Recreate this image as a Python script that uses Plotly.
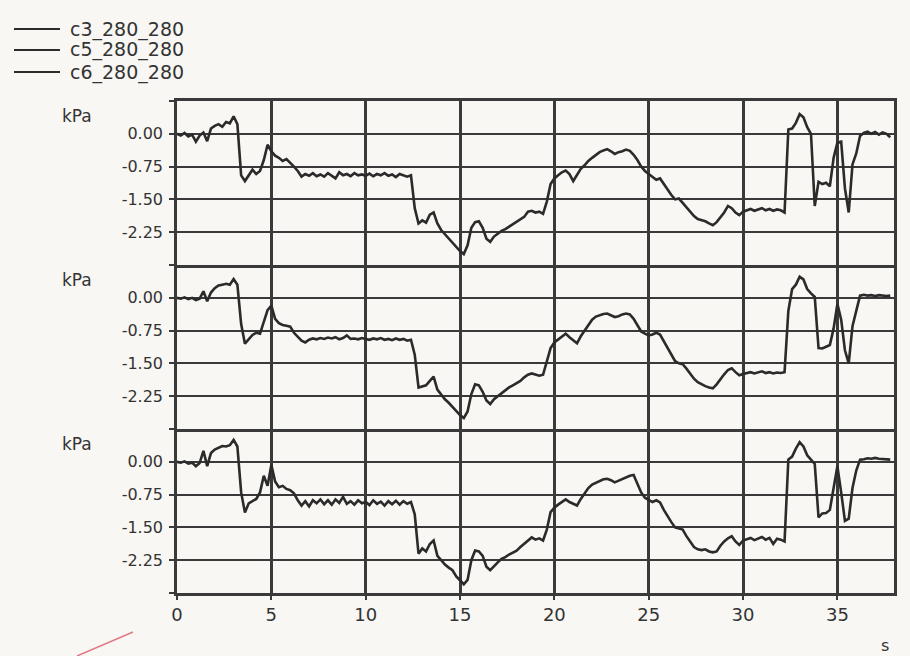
import plotly.graph_objects as go
from plotly.subplots import make_subplots

# time axis (s), 0.2 s steps
t = [round(i * 0.2, 1) for i in range(190)]

series_names = ["c3_280_280", "c5_280_280", "c6_280_280"]

c3 = [
    0.00, -0.04, 0.02, -0.06, -0.02, -0.18, -0.04, 0.03, -0.17, 0.12,
    0.18, 0.22, 0.16, 0.27, 0.24, 0.40, 0.22, -0.95, -1.08, -0.95,
    -0.82, -0.92, -0.85, -0.60, -0.25, -0.40, -0.50, -0.55, -0.62, -0.58,
    -0.66, -0.75, -0.85, -0.98, -0.92, -0.96, -0.90, -0.97, -0.93, -0.98,
    -0.90, -0.96, -1.02, -0.88, -0.95, -0.92, -0.97, -0.90, -0.95, -0.93,
    -0.96, -0.91, -0.97, -0.92, -0.95, -0.90, -0.96, -0.93, -0.99, -0.92,
    -0.95, -0.98, -0.95, -1.70, -2.05, -1.98, -2.03, -1.85, -1.80, -2.05,
    -2.20, -2.30, -2.40, -2.50, -2.58, -2.68, -2.75, -2.55, -2.15, -2.02,
    -2.00, -2.15, -2.40, -2.47, -2.35, -2.28, -2.22, -2.18, -2.12, -2.08,
    -2.02, -1.95, -1.90, -1.78, -1.76, -1.80, -1.78, -1.83, -1.55, -1.15,
    -1.02, -0.95, -0.88, -0.84, -0.92, -1.08, -0.95, -0.80, -0.72, -0.62,
    -0.55, -0.48, -0.42, -0.38, -0.35, -0.40, -0.46, -0.42, -0.40, -0.36,
    -0.39, -0.48, -0.60, -0.75, -0.85, -0.92, -0.98, -1.05, -1.02, -1.15,
    -1.28, -1.40, -1.50, -1.48, -1.58, -1.68, -1.78, -1.88, -1.95, -1.98,
    -2.00, -2.05, -2.09, -2.02, -1.92, -1.80, -1.65, -1.70, -1.80, -1.86,
    -1.78, -1.75, -1.72, -1.76, -1.73, -1.70, -1.75, -1.72, -1.76, -1.73,
    -1.75, -1.80, 0.10, 0.12, 0.25, 0.45, 0.38, 0.15, 0.00, -1.65,
    -1.10, -1.15, -1.12, -1.20, -0.55, -0.20, -0.18, -1.25, -1.80, -0.70,
    -0.45, -0.05, 0.02, 0.05, 0.00, 0.04, -0.02, 0.03, 0.00, -0.08,
]

c5 = [
    0.00, -0.02, 0.01, -0.03, 0.00, -0.05, -0.02, 0.15, -0.08, 0.12,
    0.22, 0.28, 0.30, 0.32, 0.30, 0.43, 0.30, -0.60, -1.05, -0.95,
    -0.85, -0.80, -0.82, -0.55, -0.28, -0.18, -0.48, -0.58, -0.62, -0.64,
    -0.66, -0.80, -0.90, -0.98, -1.02, -0.96, -0.93, -0.95, -0.92, -0.94,
    -0.91, -0.93, -0.90, -0.95, -0.92, -0.86, -0.94, -0.93, -0.95, -0.92,
    -0.94, -0.96, -0.93, -0.95, -0.92, -0.96, -0.94, -0.97, -0.93, -0.96,
    -0.94, -0.98, -0.96, -1.30, -2.05, -2.02, -2.00, -1.90, -1.80, -2.10,
    -2.22, -2.32, -2.40, -2.50, -2.60, -2.68, -2.75, -2.60, -2.20, -1.98,
    -2.00, -2.15, -2.35, -2.43, -2.32, -2.25, -2.18, -2.12, -2.05, -2.00,
    -1.95, -1.90, -1.82, -1.76, -1.73, -1.75, -1.78, -1.76, -1.45, -1.15,
    -1.02, -0.95, -0.88, -0.82, -0.90, -0.98, -1.04, -0.88, -0.75, -0.62,
    -0.50, -0.43, -0.40, -0.37, -0.36, -0.40, -0.44, -0.42, -0.38, -0.36,
    -0.38, -0.48, -0.62, -0.77, -0.82, -0.86, -0.84, -0.80, -0.84, -1.00,
    -1.15, -1.30, -1.45, -1.50, -1.52, -1.62, -1.75, -1.85, -1.93, -1.98,
    -2.02, -2.05, -2.07, -1.98, -1.85, -1.75, -1.65, -1.61, -1.70, -1.77,
    -1.74, -1.72, -1.70, -1.73, -1.70, -1.68, -1.72, -1.70, -1.73, -1.71,
    -1.72, -1.70, -0.30, 0.20, 0.30, 0.48, 0.42, 0.20, 0.10, 0.02,
    -1.15, -1.16, -1.12, -1.08, -0.70, -0.14, -0.50, -1.20, -1.50, -0.65,
    -0.30, 0.05, 0.07, 0.05, 0.06, 0.04, 0.06, 0.05, 0.04, 0.05,
]

c6 = [
    0.00, -0.02, 0.01, -0.04, -0.02, -0.10, -0.03, 0.25, -0.10, 0.20,
    0.28, 0.32, 0.36, 0.35, 0.38, 0.50, 0.35, -0.70, -1.16, -0.95,
    -0.90, -0.85, -0.70, -0.32, -0.55, -0.07, -0.45, -0.58, -0.55, -0.62,
    -0.65, -0.72, -0.88, -1.00, -0.90, -1.02, -0.88, -0.95, -0.86, -0.97,
    -0.88, -0.98, -0.86, -0.94, -0.80, -0.96, -0.90, -0.98, -0.88, -0.95,
    -0.92, -0.99, -0.88, -0.96, -0.91, -1.00, -0.90, -0.97, -0.89, -0.98,
    -0.90, -0.96, -0.92, -1.20, -2.10, -1.98, -2.05, -1.88, -1.80, -2.15,
    -2.25, -2.35, -2.42, -2.48, -2.62, -2.72, -2.80, -2.70, -2.25, -2.03,
    -2.05, -2.15, -2.40, -2.48, -2.38, -2.30, -2.22, -2.18, -2.12, -2.08,
    -2.03, -1.95, -1.88, -1.80, -1.73, -1.78, -1.75, -1.80, -1.55, -1.15,
    -1.05, -0.98, -0.92, -0.86, -0.92, -0.96, -1.00, -0.85, -0.72, -0.60,
    -0.52, -0.48, -0.44, -0.40, -0.39, -0.42, -0.47, -0.43, -0.40, -0.36,
    -0.32, -0.30, -0.50, -0.70, -0.82, -0.88, -0.92, -0.88, -0.93, -1.10,
    -1.25, -1.38, -1.50, -1.52, -1.55, -1.70, -1.82, -1.95, -2.00, -2.02,
    -2.00, -2.05, -2.07, -2.05, -1.92, -1.82, -1.75, -1.70, -1.82, -1.90,
    -1.80, -1.77, -1.74, -1.79, -1.75, -1.72, -1.78, -1.74, -1.88, -1.76,
    -1.78, -1.82, 0.05, 0.12, 0.30, 0.45, 0.35, 0.15, 0.05, -0.05,
    -1.27, -1.18, -1.17, -1.10, -0.60, -0.10, -0.70, -1.35, -1.30, -0.60,
    -0.20, 0.05, 0.06, 0.08, 0.07, 0.09, 0.07, 0.06, 0.05, 0.05,
]

y_tickvals = [-3.0, -2.25, -1.5, -0.75, 0.0, 0.75]
y_ticktext = ["", "-2.25", "-1.50", "-0.75", "0.00", ""]
x_tickvals = [0, 5, 10, 15, 20, 25, 30, 35]
x_ticktext = ["0", "5", "10", "15", "20", "25", "30", "35"]

FONT = "DejaVu Sans"
INK = "#2b2b2b"
GRID = "#3a3a3a"
BG = "#f8f7f3"
TXT = "#333333"

fig = make_subplots(rows=3, cols=1, shared_xaxes=True, vertical_spacing=0)

for i, (name, vals) in enumerate(zip(series_names, [c3, c5, c6])):
    fig.add_trace(
        go.Scatter(x=t, y=vals, mode="lines", name=name,
                   line=dict(color=INK, width=2.6), showlegend=False),
        row=i + 1, col=1)

for r in range(1, 4):
    fig.update_yaxes(
        range=[-3.0, 0.75], tickvals=y_tickvals, ticktext=y_ticktext,
        showgrid=True, gridcolor=GRID, gridwidth=2, zeroline=False,
        showline=True, linecolor=GRID, linewidth=2.5, mirror=True,
        ticks="outside", ticklen=5, tickwidth=2, tickcolor=GRID,
        ticklabelstandoff=3, automargin=False,
        tickfont=dict(family=FONT, size=16, color=TXT),
        row=r, col=1)
    fig.update_xaxes(
        range=[0, 38], tickvals=x_tickvals, ticktext=x_ticktext,
        showgrid=True, gridcolor=GRID, gridwidth=2.5, zeroline=False,
        showline=True, linecolor=GRID, linewidth=2.5, mirror=(r == 1),
        ticks="outside" if r == 3 else "", ticklen=4, tickwidth=2, tickcolor=GRID,
        showticklabels=(r == 3), automargin=False,
        tickfont=dict(family=FONT, size=18, color=TXT),
        row=r, col=1)

L, R, T, B = 177, 16, 101, 63
W, H = 910, 656
pw, ph = W - L - R, H - T - B


def px(x):
    return (x - L) / pw


def py(y):
    return (H - B - y) / ph


annotations = []
shapes = []
for yc in [116, 280, 444]:
    annotations.append(dict(text="kPa", x=px(77), y=py(yc), xref="paper", yref="paper",
                            showarrow=False, xanchor="center", yanchor="middle",
                            font=dict(family=FONT, size=17, color=TXT)))
annotations.append(dict(text="s", x=px(885), y=py(645), xref="paper", yref="paper",
                        showarrow=False, xanchor="center", yanchor="middle",
                        font=dict(family=FONT, size=16, color=TXT)))

# legend (drawn as line samples + labels)
for name, yc in zip(series_names, [29, 50, 72]):
    shapes.append(dict(type="line", xref="paper", yref="paper",
                       x0=px(14), x1=px(60), y0=py(yc), y1=py(yc),
                       line=dict(color=INK, width=2)))
    annotations.append(dict(text=name, x=px(68), y=py(yc), xref="paper", yref="paper",
                            showarrow=False, xanchor="left", yanchor="middle",
                            font=dict(family=FONT, size=19, color=TXT)))

shapes.append(dict(type="line", xref="paper", yref="paper",
                   x0=px(77), y0=py(656), x1=px(133), y1=py(632),
                   line=dict(color="#e07a84", width=1.5)))

fig.update_layout(
    width=W, height=H,
    margin=dict(l=L, r=R, t=T, b=B, autoexpand=False),
    paper_bgcolor=BG, plot_bgcolor=BG,
    annotations=annotations,
    shapes=shapes,
    showlegend=False,
)

fig.write_html("out.html", config={"displayModeBar": False},
               post_script="document.body.style.margin='0';document.body.style.background='%s';" % BG)
